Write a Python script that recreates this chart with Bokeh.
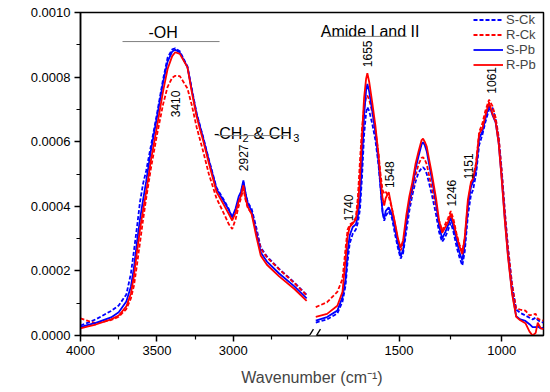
import numpy as np
from math import pi
from bokeh.plotting import figure
from bokeh.models import ColumnDataSource, FixedTicker, NumeralTickFormatter, Range1d, Label, Arrow
from bokeh.core.properties import value
from bokeh.embed import file_html
from bokeh.resources import INLINE

# ---------------- data (absorbance in units of 1e-4) ----------------
W_HIGH = [4000, 3950, 3900, 3800, 3750, 3700, 3670, 3650, 3630, 3610, 3590, 3570, 3540, 3500,
          3460, 3430, 3400, 3380, 3350, 3300, 3270, 3240, 3220, 3200, 3160, 3110, 3060, 3030,
          3007, 2985, 2965, 2950, 2934, 2920, 2905, 2880, 2850, 2820, 2780, 2700, 2600, 2520]
W_LOW = [1905, 1850, 1800, 1775, 1760, 1750, 1740, 1725, 1710, 1700, 1690, 1680, 1670, 1660,
         1654, 1645, 1630, 1615, 1600, 1590, 1580, 1572, 1565, 1550, 1535, 1520, 1505, 1492,
         1480, 1465, 1450, 1435, 1420, 1405, 1390, 1383, 1375, 1365, 1355, 1340, 1320, 1305,
         1290, 1275, 1262, 1248, 1235, 1220, 1205, 1192, 1180, 1165, 1150, 1140, 1125, 1110,
         1095, 1080, 1062, 1045, 1030, 1015, 1000, 985, 970, 950, 930, 910, 885, 865, 850,
         835, 825, 810, 797]

S_CK_HIGH = [0.31, 0.40, 0.50, 0.76, 0.93, 1.27, 1.92, 2.63, 3.37, 4.15, 4.71, 5.10, 5.85, 6.85,
             7.92, 8.60, 8.86, 8.89, 8.80, 8.33, 7.60, 6.88, 6.53, 6.19, 5.45, 4.58, 4.18, 3.92,
             3.62, 3.87, 4.22, 4.40, 4.75, 4.40, 4.12, 3.92, 3.35, 2.72, 2.45, 2.06, 1.64, 1.26]
R_CK_HIGH = [0.53, 0.45, 0.38, 0.48, 0.58, 0.82, 1.15, 1.55, 2.20, 2.90, 3.60, 4.25, 5.15, 6.20,
             7.15, 7.70, 7.98, 8.04, 8.03, 7.65, 7.10, 6.45, 6.10, 5.75, 5.00, 4.25, 3.76, 3.45,
             3.30, 3.60, 4.00, 4.25, 4.55, 4.20, 3.95, 3.78, 3.25, 2.68, 2.42, 2.05, 1.62, 1.24]
S_PB_HIGH = [0.26, 0.33, 0.39, 0.56, 0.72, 1.05, 1.52, 2.11, 2.91, 3.62, 4.21, 4.77, 5.70, 6.75,
             7.83, 8.48, 8.79, 8.85, 8.76, 8.31, 7.56, 6.85, 6.50, 6.16, 5.42, 4.54, 4.14, 3.89,
             3.67, 3.93, 4.30, 4.45, 4.80, 4.40, 4.09, 3.86, 3.19, 2.57, 2.29, 1.92, 1.52, 1.15]
R_PB_HIGH = [0.22, 0.28, 0.34, 0.50, 0.62, 0.90, 1.30, 1.85, 2.60, 3.30, 3.90, 4.45, 5.40, 6.45,
             7.55, 8.25, 8.65, 8.77, 8.72, 8.30, 7.50, 6.78, 6.42, 6.08, 5.33, 4.45, 4.03, 3.77,
             3.56, 3.80, 4.15, 4.32, 4.65, 4.25, 3.98, 3.76, 3.08, 2.47, 2.19, 1.83, 1.44, 1.07]

S_CK_LOW = [0.40, 0.50, 0.68, 1.05, 1.55, 2.30, 2.85, 3.15, 3.28, 3.50, 3.90, 4.90, 6.20, 6.90,
            7.07, 6.95, 6.55, 6.05, 5.30, 4.60, 3.85, 3.55, 3.70, 3.85, 3.65, 3.15, 2.70, 2.38,
            2.55, 3.20, 3.85, 4.35, 4.75, 5.05, 5.18, 5.21, 5.15, 5.00, 4.75, 4.35, 3.75, 3.20,
            2.90, 3.05, 3.25, 3.50, 3.20, 2.75, 2.40, 2.17, 2.60, 3.70, 4.35, 4.50, 5.00, 5.90,
            6.20, 6.60, 7.00, 7.05, 6.70, 6.10, 5.05, 3.80, 2.70, 1.55, 0.80, 0.70, 0.62, 0.55,
            0.50, 0.55, 0.48, 0.42, 0.40]
R_CK_LOW = [0.88, 1.03, 1.35, 1.75, 2.70, 3.28, 3.43, 3.50, 3.65, 4.30, 5.40, 6.40, 7.05, 7.38,
            7.43, 7.30, 6.90, 6.35, 5.65, 5.00, 4.50, 4.40, 4.45, 4.30, 3.95, 3.45, 2.95, 2.63,
            2.85, 3.50, 4.05, 4.50, 4.95, 5.30, 5.50, 5.52, 5.45, 5.30, 5.00, 4.55, 4.00, 3.55,
            3.25, 3.45, 3.62, 3.85, 3.60, 3.15, 2.80, 2.60, 3.00, 4.05, 4.70, 4.85, 5.35, 6.30,
            6.55, 6.95, 7.30, 7.10, 6.75, 6.15, 5.10, 3.85, 2.75, 1.60, 0.83, 0.80, 0.77, 0.62,
            0.65, 0.67, 0.52, 0.48, 0.46]
S_PB_LOW = [0.46, 0.57, 0.77, 1.19, 1.75, 2.60, 3.10, 3.36, 3.44, 3.70, 4.20, 5.40, 6.80, 7.60,
            7.79, 7.55, 6.95, 6.30, 5.40, 4.60, 3.80, 3.61, 3.85, 3.97, 3.75, 3.30, 2.85, 2.45,
            2.65, 3.45, 4.15, 4.60, 5.15, 5.55, 5.92, 5.98, 5.90, 5.70, 5.35, 4.85, 4.10, 3.40,
            3.00, 3.20, 3.40, 3.65, 3.35, 2.95, 2.55, 2.32, 2.85, 4.00, 4.60, 4.75, 5.15, 6.10,
            6.30, 6.70, 7.15, 6.82, 6.60, 5.95, 4.85, 3.60, 2.50, 1.35, 0.60, 0.50, 0.45, 0.35,
            0.26, 0.26, 0.28, 0.22, 0.24]
R_PB_LOW = [0.58, 0.67, 0.92, 1.35, 2.38, 3.08, 3.36, 3.46, 3.60, 4.00, 4.90, 6.20, 7.35, 7.95,
            8.12, 7.85, 7.20, 6.50, 5.60, 4.85, 4.25, 4.02, 4.25, 4.44, 3.95, 3.50, 3.00, 2.72,
            2.95, 3.70, 4.30, 4.75, 5.30, 5.70, 6.05, 6.09, 6.00, 5.85, 5.50, 5.00, 4.25, 3.56,
            3.18, 3.35, 3.50, 3.77, 3.50, 3.10, 2.75, 2.52, 3.05, 4.20, 4.75, 4.85, 5.30, 6.25,
            6.40, 6.80, 7.22, 6.86, 6.62, 5.95, 4.80, 3.55, 2.45, 1.30, 0.58, 0.47, 0.38, 0.12,
            0.00, 0.08, 0.40, 0.22, 0.20]
UNIT = 1e-4

SERIES_NAMES = ["S-Ck", "R-Ck", "S-Pb", "R-Pb"]
SERIES_HIGH = [S_CK_HIGH, R_CK_HIGH, S_PB_HIGH, R_PB_HIGH]
SERIES_LOW = [S_CK_LOW, R_CK_LOW, S_PB_LOW, R_PB_LOW]
SERIES_COLORS = ["#0000FF", "#FF0000", "#0000FF", "#FF0000"]
SERIES_DASH = ["4 2", "4 2", "solid", "solid"]

PEAK_TEXT = ["3410", "2927", "1740", "1655", "1548", "1246", "1151", "1061"]
PEAK_W = [3375, 2936, 1747, 1652, 1544, 1245, 1160, 1050]
PEAK_A = [7.17e-4, 5.50e-4, 3.95e-4, 8.72e-4, 4.98e-4, 4.41e-4, 5.24e-4, 7.90e-4]

X_MAJOR = [4000, 3500, 3000, 1500, 1000]
X_MINOR = [3750, 3250, 2750, 1750, 1250]
Y_MAJOR = [0.0, 0.0002, 0.0004, 0.0006, 0.0008, 0.0010]
Y_MINOR = [0.0001, 0.0003, 0.0005, 0.0007, 0.0009]

# ---------------- broken wavenumber axis ----------------
HIGH_END = 2490.0      # high-wavenumber panel: 4000 -> 2490
LOW_START = 1910.0     # low-wavenumber panel: 1910 -> 797
LOW_AT_1500 = 2084.5   # axis position of 1500 cm-1
LOW_STRETCH = 1.3451   # low panel is drawn on a stretched scale
X_END_W = 797.0


def axis_x(w):
    w = np.asarray(w, dtype=float)
    return np.where(w > 2200, 4000.0 - w, LOW_AT_1500 + (1500.0 - w) * LOW_STRETCH)


X_END = float(axis_x(X_END_W))
FONT = "Liberation Sans"

p = figure(width=545, height=390, x_range=Range1d(0, X_END), y_range=Range1d(0, 0.001),
           output_backend="svg", toolbar_location=None,
           min_border_left=80, min_border_right=2, min_border_top=12, min_border_bottom=55)
p.xgrid.visible = False
p.ygrid.visible = False
p.outline_line_color = "black"
p.outline_line_width = 1.5
p.background_fill_color = "white"

for name, hi, lo, col, dash in zip(SERIES_NAMES, SERIES_HIGH, SERIES_LOW, SERIES_COLORS, SERIES_DASH):
    xs = np.concatenate([axis_x(W_HIGH), [np.nan], axis_x(W_LOW)])
    ys = np.concatenate([np.array(hi) * UNIT, [np.nan], np.array(lo) * UNIT])
    p.line(xs, ys, line_color=col, line_width=1.8, line_dash=dash, legend_label=name)

# axes
for ax in (p.xaxis[0], p.yaxis[0]):
    ax.axis_line_width = 1.5
    ax.major_tick_line_width = 1.5
    ax.minor_tick_line_width = 1.2
    ax.major_tick_in = 0
    ax.major_tick_out = 6
    ax.minor_tick_in = 0
    ax.minor_tick_out = 4
    ax.major_label_text_font = FONT
    ax.major_label_text_font_size = "13px"
    ax.major_label_text_color = "black"
    ax.major_label_standoff = 4

p.xaxis.ticker = FixedTicker(ticks=[float(v) for v in axis_x(X_MAJOR)],
                             minor_ticks=[float(v) for v in axis_x(X_MINOR)])
p.xaxis.major_label_overrides = {float(axis_x(t)): str(t) for t in X_MAJOR}
p.xaxis.axis_label = "Wavenumber (cm\u207b\u00b9)"
p.xaxis.axis_label_text_font = FONT
p.xaxis.axis_label_text_font_size = "16px"
p.xaxis.axis_label_text_font_style = "normal"
p.xaxis.axis_label_standoff = 11

p.yaxis.ticker = FixedTicker(ticks=Y_MAJOR, minor_ticks=Y_MINOR)
p.yaxis.formatter = NumeralTickFormatter(format="0.0000")

p.add_layout(Label(x=-452, y=0.00055, text="Absorbance", angle=pi / 2, text_align="center",
                   text_baseline="middle", text_font=FONT, text_font_size="16px"))

# peak labels
peak_src = ColumnDataSource(dict(x=axis_x(PEAK_W), y=PEAK_A, text=PEAK_TEXT))
p.text(x="x", y="y", text="text", source=peak_src, angle=pi / 2, text_align="center",
       text_baseline="middle", text_font=value(FONT), text_font_size=value("12px"),
       text_color="black")

# group labels
GROUP_TEXT = ["-OH", "Amide I and II", "-CH", "2", "& CH", "3"]
GROUP_W = [3555, 1881, 3127, 2939, 2867, 2608]
GROUP_A = [9.37e-4, 9.42e-4, 6.25e-4, 6.13e-4, 6.25e-4, 6.13e-4]
GROUP_SIZE = ["16px", "16px", "16px", "11px", "16px", "11px"]
grp_src = ColumnDataSource(dict(x=axis_x(GROUP_W), y=GROUP_A, text=GROUP_TEXT, size=GROUP_SIZE))
p.text(x="x", y="y", text="text", text_font_size="size", source=grp_src, text_align="left",
       text_baseline="alphabetic", text_font=value(FONT), text_color="black")

BRACKET_W0 = [3725, 3103, 1849]
BRACKET_W1 = [3090, 2644, 1463]
BRACKET_A = [9.10e-4, 6.19e-4, 9.26e-4]
p.segment(x0=axis_x(BRACKET_W0), y0=BRACKET_A, x1=axis_x(BRACKET_W1), y1=BRACKET_A,
          line_color="#7f7f7f", line_width=1)

# axis break marks
bc = (float(axis_x(HIGH_END)) + float(axis_x(LOW_START))) / 2
p.add_layout(Arrow(end=None, x_start=bc - 23, y_start=0, x_end=bc + 23, y_end=0,
                   line_color="white", line_width=4))
for dx in (-23, 23):
    p.add_layout(Arrow(end=None, x_start=bc + dx - 26, y_start=-2.0e-5,
                       x_end=bc + dx + 26, y_end=2.0e-5, line_color="black", line_width=1.3))

# legend
lg = p.legend[0]
lg.location = "top_right"
lg.margin = 0
lg.padding = 0
lg.spacing = 0
lg.border_line_color = None
lg.background_fill_alpha = 0
lg.glyph_width = 30
lg.glyph_height = 15
lg.label_height = 15
lg.label_width = 37
lg.label_standoff = 3
lg.label_text_font = FONT
lg.label_text_font_size = "13px"

open("out.html", "w").write(file_html(p, INLINE))
